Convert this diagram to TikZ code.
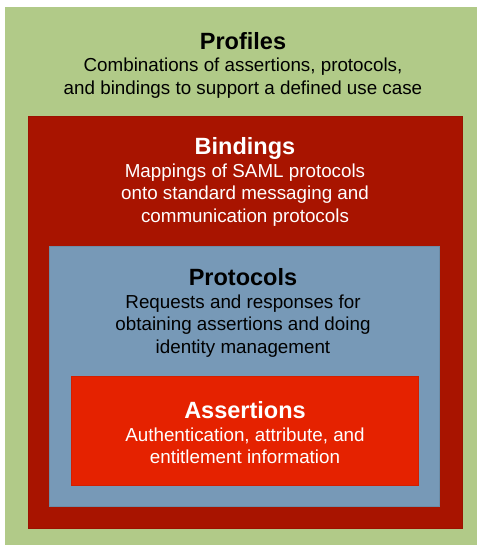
\documentclass[tikz,border=0pt]{standalone}
\usepackage{fontspec}
\setmainfont{Liberation Sans}
\definecolor{profgreen}{HTML}{B1CA88}
\definecolor{bindred}{HTML}{A81400}
\definecolor{protblue}{HTML}{7799B7}
\definecolor{assred}{HTML}{E52200}
\tikzset{
  layer/.style={draw=#1!92!black, fill=#1, line width=0.5pt},
  lab/.style={align=center, inner sep=0pt, font=\fontsize{18.8}{22.5}\selectfont},
  labw/.style={lab, text=white},
  every node/.style={text=black}
}
\newcommand{\LayerTitle}[1]{{\fontsize{23.5}{23}\selectfont\bfseries #1}}

\begin{document}
\begin{tikzpicture}[x=1pt,y=-1pt]
  \useasboundingbox (0,0) rectangle (477,545);
  \fill[white] (0,0) rectangle (477,545);

  % nested layers, outermost first
  \fill[profgreen] (5,7) rectangle (477,545);
  \path[layer=bindred] (28,116) rectangle (462,528);
  \path[layer=protblue] (49,246) rectangle (439,506);
  \path[layer=assred] (71,376) rectangle (418,485);

  \node[lab] (profiles) at (243,65)
    {\LayerTitle{Profiles}\\Combinations of assertions, protocols,\\and bindings to support a defined use case};
  \node[labw] (bindings) at (245,182)
    {\LayerTitle{Bindings}\\Mappings of SAML protocols\\onto standard messaging and\\communication protocols};
  \node[lab] (protocols) at (243,313)
    {\LayerTitle{Protocols}\\Requests and responses for\\obtaining assertions and doing\\identity management};
  \node[labw] (assertions) at (245,433)
    {\LayerTitle{Assertions}\\Authentication, attribute, and\\entitlement information};
\end{tikzpicture}
\end{document}
